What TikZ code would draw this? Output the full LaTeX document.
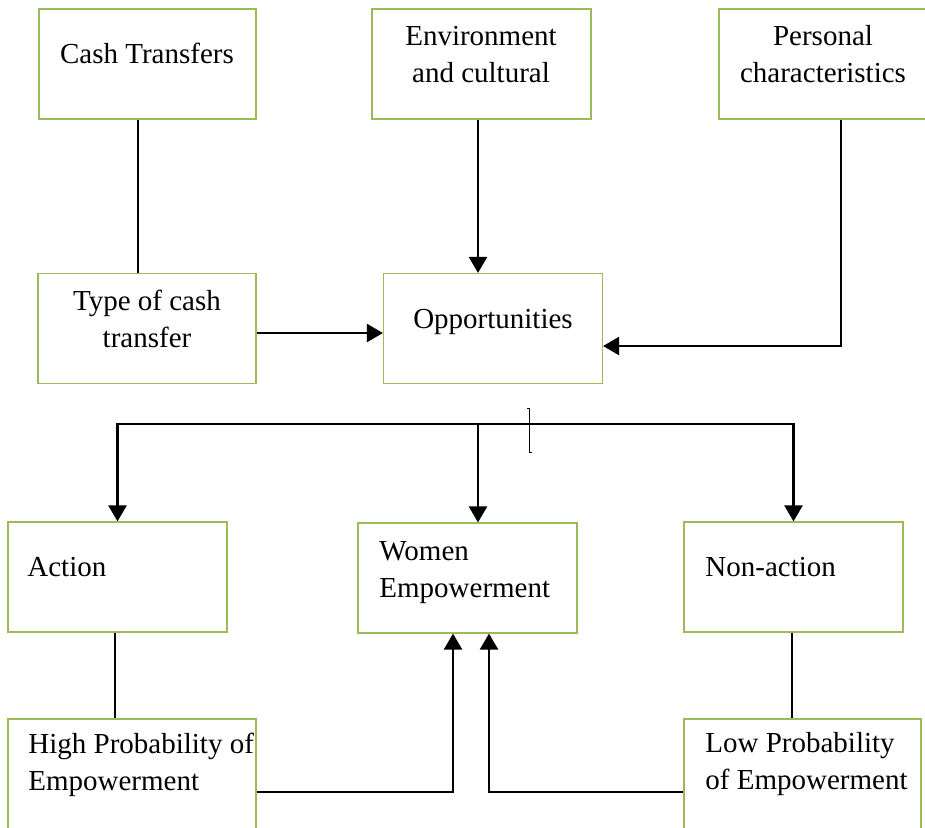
\documentclass[tikz,border=0pt]{standalone}
\usepackage{fontspec}
\setmainfont{Liberation Serif}
\usetikzlibrary{arrows.meta}
\definecolor{boxgreen}{RGB}{155,187,89}

\begin{document}
\begin{tikzpicture}[x=0.5pt,y=-0.5pt,
        box/.style={draw=boxgreen, line width=0.6pt, rectangle, minimum height=55pt, inner sep=0pt},
        lbl/.style={inner sep=0pt, font=\fontsize{14.5}{18.5}\selectfont},
        link/.style={line width=1.2pt},
        arr/.style={link, -{Triangle[length=8pt,width=9pt]}}]

        % Fix the frame
        \useasboundingbox (0,0) rectangle (925,827);
        \clip (0,0) rectangle (925,827);

        % Define the boxes
        \node[box, minimum width=108.5pt] (cash) at (147.5,64) {};
        \node[box, minimum width=109.5pt] (env) at (481.5,64) {};
        \node[box, minimum width=104pt] (pers) at (823,64) {};
        \node[box, minimum width=109pt] (type) at (147,328.5) {};
        \node[box, minimum width=109.5pt] (opp) at (493,328.5) {};
        \node[box, minimum width=109.5pt] (act) at (117.5,577) {};
        \node[box, minimum width=109.5pt] (women) at (467.5,578) {};
        \node[box, minimum width=109.5pt] (nonact) at (793.5,577) {};
        \node[box, minimum width=124pt] (high) at (132,774) {};
        \node[box, minimum width=118.5pt] (low) at (802.5,774) {};

        % Label the boxes (base = last line)
        \node[lbl, anchor=base] (cashtext) at (147,63) {Cash Transfers};
        \node[lbl, anchor=base, align=center] (envtext) at (481,82) {Environment\\and cultural};
        \node[lbl, anchor=base, align=center] (perstext) at (823,82) {Personal\\characteristics};
        \node[lbl, anchor=base, align=center] (typetext) at (147,347) {Type of cash\\transfer};
        \node[lbl, anchor=base] (opptext) at (493,328) {Opportunities};
        \node[lbl, anchor=base west] (acttext) at (27,576) {Action};
        \node[lbl, anchor=base west, align=left] (womentext) at (379,597) {Women\\Empowerment};
        \node[lbl, anchor=base west] (nonacttext) at (705,576) {Non-action};
        \node[lbl, anchor=base west, align=left] (hightext) at (28,790) {High Probability of\\Empowerment};
        \node[lbl, anchor=base west, align=left] (lowtext) at (705,789) {Low Probability\\of Empowerment};

        % Draw the upper links
        \draw[link] ([xshift=-4.75pt]cash.south) -- ([xshift=-4.5pt]type.north);
        \draw[arr] ([xshift=-1.75pt]env.south) -- ([xshift=-7.5pt]opp.north);
        \draw[arr] ([yshift=-2.25pt]type.east) -- ([yshift=-2.25pt]opp.west);
        \draw[arr] ([xshift=9pt]pers.south) |- ([yshift=-8.75pt]opp.east);

        % Draw the split bar
        \coordinate (bar) at (478,424);
        \draw[arr] (bar) -| (act.north);
        \draw[arr] (bar) -| (nonact.north);
        \draw[arr] (bar) -- (bar |- women.north);
        \draw[line width=0.5pt] (527,408) -- (529.5,408) -- (529.5,452) -- (532,452);

        % Draw the lower links
        \draw[link] ([xshift=-1.25pt]act.south) -- ([xshift=-8.5pt]high.north);
        \draw[link] ([xshift=-0.75pt]nonact.south) -- ([xshift=-5.25pt]low.north);
        \draw[arr] ([yshift=-9pt]high.east) -| ([xshift=-7.25pt]women.south);
        \draw[arr] ([yshift=-9pt]low.west) -| ([xshift=10.75pt]women.south);

    \end{tikzpicture}
\end{document}
